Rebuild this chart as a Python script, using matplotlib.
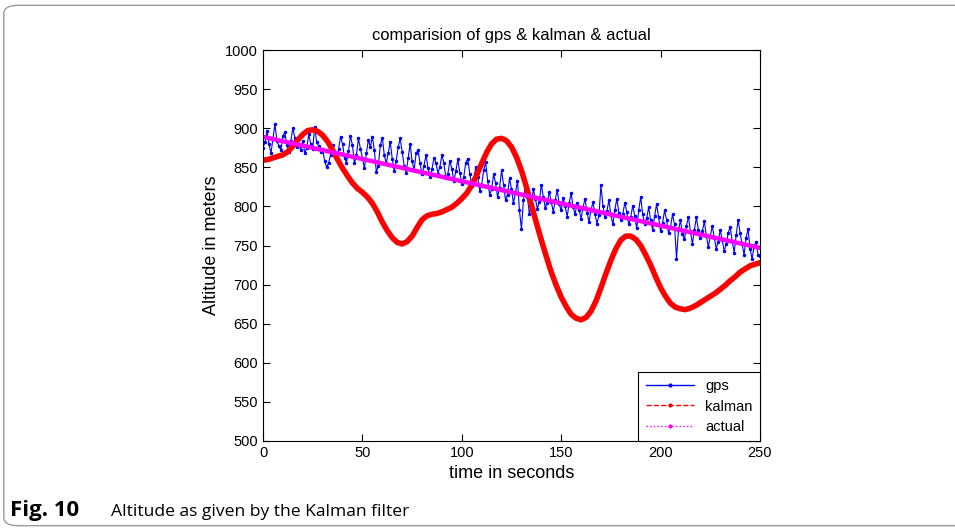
import numpy as np
import matplotlib.pyplot as plt
from matplotlib.lines import Line2D
from matplotlib.patches import FancyBboxPatch

plt.rcParams['font.family'] = ['Liberation Sans', 'DejaVu Sans']

# gps readings, one per second
gps = [
    875, 882, 896, 880, 868, 886, 905, 884, 877, 872,
    890, 895, 878, 870, 884, 900, 888, 876, 880, 872,
    884, 868, 875, 892, 880, 873, 902, 882, 877, 869,
    874, 858, 850, 856, 866, 879, 870, 861, 873, 889,
    880, 862, 856, 871, 890, 878, 855, 866, 887, 874,
    862, 849, 868, 885, 876, 889, 872, 844, 852, 878,
    888, 866, 855, 868, 883, 861, 845, 858, 876, 887,
    870, 852, 843, 862, 880, 858, 846, 868, 872, 855,
    841, 852, 866, 849, 838, 848, 862, 856, 842, 851,
    866, 855, 836, 842, 858, 848, 832, 845, 860, 843,
    829, 838, 856, 861, 842, 826, 834, 850, 838, 820,
    828, 846, 857, 833, 815, 822, 841, 830, 812, 824,
    846, 828, 808, 815, 836, 822, 804, 818, 833, 795,
    771, 808, 826, 812, 790, 803, 822, 810, 797, 806,
    828, 812, 798, 805, 819, 806, 793, 808, 821, 803,
    795, 811, 800, 787, 804, 817, 799, 790, 805, 796,
    784, 799, 810, 792, 780, 795, 806, 790, 778, 789,
    827, 801, 786, 794, 808, 789, 777, 796, 810, 792,
    783, 790, 805, 793, 777, 787, 801, 788, 772, 795,
    812, 790, 778, 785, 799, 782, 770, 788, 803, 786,
    768, 779, 795, 783, 766, 774, 790, 777, 733, 770,
    782, 765, 758, 775, 787, 768, 752, 770, 786, 770,
    759, 768, 781, 763, 748, 762, 775, 760, 746, 755,
    770, 757, 743, 752, 766, 774, 756, 741, 763, 783,
    766, 752, 738, 760, 771, 746, 733, 748, 755, 738,
    736,
]
t_gps = np.arange(len(gps))

# kalman estimate, every 2.5 seconds
t_kalman = np.arange(0, 250.1, 2.5)
kalman = [
    859, 860, 862, 864, 866, 870, 877, 885, 892, 897,
    898, 896, 891, 883, 872, 860, 849, 839, 830, 823,
    818, 812, 804, 793, 780, 769, 760, 754, 752, 755,
    762, 773, 783, 788, 790, 791, 793, 796, 799, 804,
    810, 817, 827, 840, 855, 869, 880, 886, 887, 884,
    876, 863, 846, 825, 802, 779, 757, 736, 716, 699,
    684, 672, 662, 657, 655, 658, 666, 679, 696, 714,
    731, 746, 757, 762, 762, 758, 750, 738, 725, 710,
    696, 685, 676, 671, 669, 668, 670, 673, 677, 681,
    685, 689, 694, 699, 705, 710, 716, 720, 724, 726,
    728,
]

# actual altitude (straight descent)
t_actual = [0, 250]
actual = [889, 747]

fig = plt.figure(figsize=(9.55, 5.31), dpi=100)

# rounded frame around the figure panel
frame = FancyBboxPatch((0.004, 0.01), 1.05, 0.98, boxstyle="round,pad=0,rounding_size=0.015",
                       transform=fig.transFigure, facecolor='none', edgecolor='#9a9a9a',
                       linewidth=1.0, zorder=-1)
fig.patches.append(frame)

ax = fig.add_axes([0.2754, 0.1695, 0.5204, 0.7363])
ax.plot(t_gps, gps, color='#0000ff', lw=0.8, marker='.', ms=3)
ax.plot(t_kalman, kalman, color='#ff0000', lw=4, solid_capstyle='round', solid_joinstyle='round')
ax.plot(t_actual, actual, color='#ff00ff', lw=3.2)

ax.set_xlim(0, 250)
ax.set_ylim(500, 1000)
ax.set_xticks(np.arange(0, 251, 50))
ax.set_yticks(np.arange(500, 1001, 50))
ax.tick_params(direction='in', top=True, right=True, labelsize=10.5, length=5, width=0.8)
for s in ax.spines.values():
    s.set_linewidth(0.8)

ax.set_title('comparision of gps & kalman & actual', fontsize=11.9, pad=7)
ax.set_xlabel('time in seconds', fontsize=13, labelpad=4)
ax.set_ylabel('Altitude in meters', fontsize=13, labelpad=4)

handles = [
    Line2D([], [], color='#0000ff', lw=1, marker='.', ms=4),
    Line2D([], [], color='#ff0000', lw=1, ls='--', marker='.', ms=4),
    Line2D([], [], color='#ff00ff', lw=1, ls=':', marker='.', ms=4),
]
leg = ax.legend(handles, ['gps', 'kalman', 'actual'], loc='lower right', fontsize=10.5,
                fancybox=False, edgecolor='black', framealpha=1, borderaxespad=0,
                handlelength=3.3, labelspacing=0.42, borderpad=0.5)
leg.get_frame().set_linewidth(0.8)

fig.text(0.0105, 0.028, 'Fig. 10', fontsize=16, fontweight='bold', family='Open Sans', va='baseline')
fig.text(0.116, 0.028, 'Altitude as given by the Kalman filter', fontsize=12.6, family='Open Sans',
         va='baseline')

fig.savefig('out.png', dpi=100)
